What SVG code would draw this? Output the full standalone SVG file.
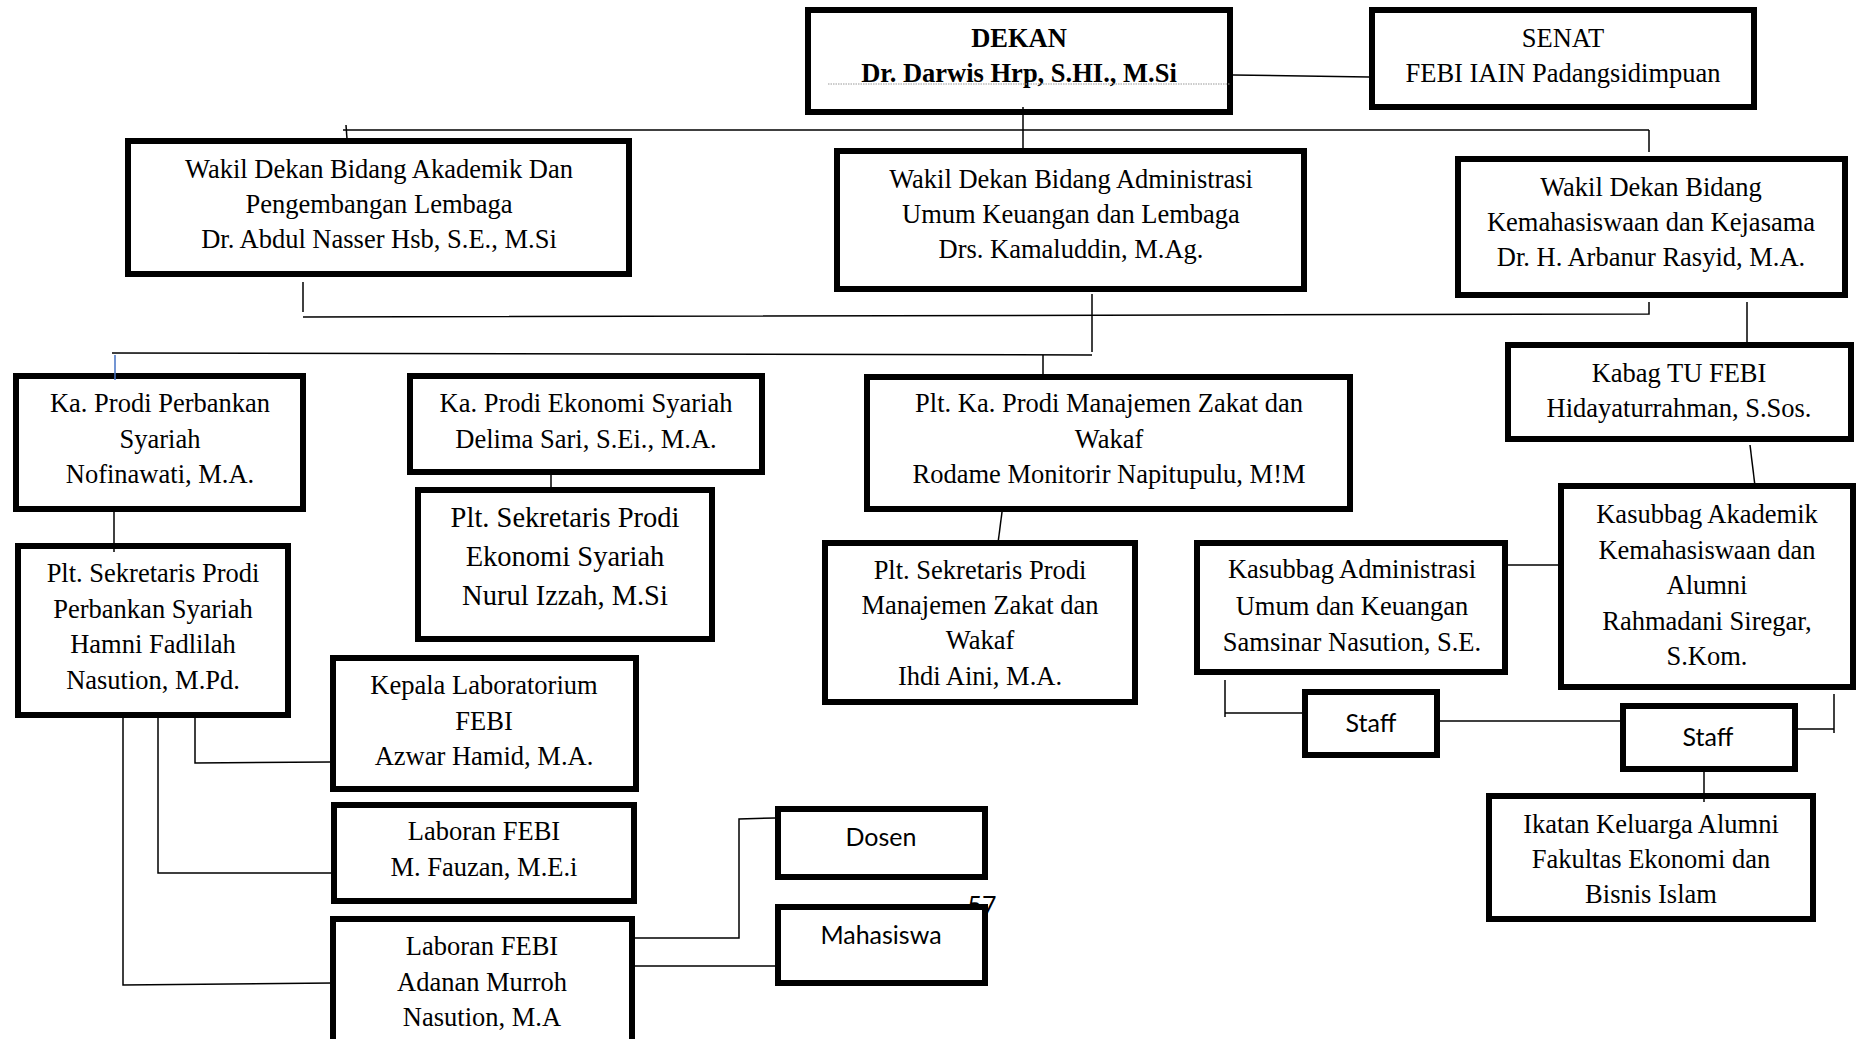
<svg xmlns="http://www.w3.org/2000/svg" width="1856" height="1039" viewBox="0 0 1856 1039">
<style>
.box{fill:#fff;stroke:#000;stroke-width:6}
.t{font-family:"Liberation Serif","Times New Roman",serif;font-size:26.5px;text-anchor:middle;fill:#000}
.b{font-weight:bold}
.lg{font-size:28.5px}
.s{font-family:Lato,"Liberation Sans",Arial,sans-serif;font-size:25px;text-anchor:middle;fill:#000}
.c{stroke:#000;stroke-width:1.5;fill:none}
</style>
<rect width="1856" height="1039" fill="#fff"/>
<text class="s" x="982" y="914" font-size="28">57</text>
<g id="dekan">
<rect class="box" x="808" y="10" width="422" height="102"/>
<text class="t b" x="1019" y="47">DEKAN</text>
<text class="t b" x="1019" y="82">Dr. Darwis Hrp, S.HI., M.Si</text>
<line x1="828" y1="84" x2="1230" y2="84" stroke="#999" stroke-width="1.2" stroke-dasharray="1.5,1"/>
</g>
<g id="senat">
<rect class="box" x="1372" y="10" width="382" height="97"/>
<text class="t" x="1563" y="47">SENAT</text>
<text class="t" x="1563" y="82">FEBI IAIN Padangsidimpuan</text>
</g>
<g id="wd1">
<rect class="box" x="128" y="141" width="501" height="133"/>
<text class="t" x="379" y="178">Wakil Dekan Bidang Akademik Dan</text>
<text class="t" x="379" y="213">Pengembangan Lembaga</text>
<text class="t" x="379" y="248">Dr. Abdul Nasser Hsb, S.E., M.Si</text>
</g>
<g id="wd2">
<rect class="box" x="837" y="151" width="467" height="138"/>
<text class="t" x="1071" y="188">Wakil Dekan Bidang Administrasi</text>
<text class="t" x="1071" y="223">Umum Keuangan dan Lembaga</text>
<text class="t" x="1071" y="258">Drs. Kamaluddin, M.Ag.</text>
</g>
<g id="wd3">
<rect class="box" x="1458" y="159" width="387" height="136"/>
<text class="t" x="1651" y="196">Wakil Dekan Bidang</text>
<text class="t" x="1651" y="231">Kemahasiswaan dan Kejasama</text>
<text class="t" x="1651" y="266">Dr. H. Arbanur Rasyid, M.A.</text>
</g>
<g id="kabag">
<rect class="box" x="1508" y="345" width="343" height="94"/>
<text class="t" x="1679" y="382">Kabag TU FEBI</text>
<text class="t" x="1679" y="417">Hidayaturrahman, S.Sos.</text>
</g>
<g id="kaprodi-ps">
<rect class="box" x="16" y="376" width="287" height="133"/>
<text class="t" x="160" y="412">Ka. Prodi Perbankan</text>
<text class="t" x="160" y="447.5">Syariah</text>
<text class="t" x="160" y="483">Nofinawati, M.A.</text>
</g>
<g id="sek-ps">
<rect class="box" x="18" y="546" width="270" height="169"/>
<text class="t" x="153" y="582">Plt. Sekretaris Prodi</text>
<text class="t" x="153" y="617.5">Perbankan Syariah</text>
<text class="t" x="153" y="653">Hamni Fadlilah</text>
<text class="t" x="153" y="688.5">Nasution, M.Pd.</text>
</g>
<g id="kaprodi-es">
<rect class="box" x="410" y="376" width="352" height="96"/>
<text class="t" x="586" y="412">Ka. Prodi Ekonomi Syariah</text>
<text class="t" x="586" y="447.5">Delima Sari, S.Ei., M.A.</text>
</g>
<g id="sek-es">
<rect class="box" x="418" y="490" width="294" height="149"/>
<text class="t lg" x="565" y="527">Plt. Sekretaris Prodi</text>
<text class="t lg" x="565" y="566">Ekonomi Syariah</text>
<text class="t lg" x="565" y="605">Nurul Izzah, M.Si</text>
</g>
<g id="kaprodi-mzw">
<rect class="box" x="867" y="377" width="483" height="132"/>
<text class="t" x="1109" y="412">Plt. Ka. Prodi Manajemen Zakat dan</text>
<text class="t" x="1109" y="447.5">Wakaf</text>
<text class="t" x="1109" y="483">Rodame Monitorir Napitupulu, M!M</text>
</g>
<g id="sek-mzw">
<rect class="box" x="825" y="543" width="310" height="159"/>
<text class="t" x="980" y="579">Plt. Sekretaris Prodi</text>
<text class="t" x="980" y="614">Manajemen Zakat dan</text>
<text class="t" x="980" y="649">Wakaf</text>
<text class="t" x="980" y="685">Ihdi Aini, M.A.</text>
</g>
<g id="kasubbag-auk">
<rect class="box" x="1197" y="543" width="308" height="129"/>
<text class="t" x="1352" y="578">Kasubbag Administrasi</text>
<text class="t" x="1352" y="614.5">Umum dan Keuangan</text>
<text class="t" x="1352" y="651">Samsinar Nasution, S.E.</text>
</g>
<g id="kasubbag-akd">
<rect class="box" x="1561" y="486" width="292" height="201"/>
<text class="t" x="1707" y="523">Kasubbag Akademik</text>
<text class="t" x="1707" y="558.5">Kemahasiswaan dan</text>
<text class="t" x="1707" y="594">Alumni</text>
<text class="t" x="1707" y="629.5">Rahmadani Siregar,</text>
<text class="t" x="1707" y="665">S.Kom.</text>
</g>
<g id="staff1">
<rect class="box" x="1305" y="692" width="132" height="63"/>
<text class="s" x="1371" y="732">Staff</text>
</g>
<g id="staff2">
<rect class="box" x="1623" y="706" width="172" height="63"/>
<text class="s" x="1708" y="746">Staff</text>
</g>
<g id="ika">
<rect class="box" x="1489" y="796" width="324" height="123"/>
<text class="t" x="1651" y="833">Ikatan Keluarga Alumni</text>
<text class="t" x="1651" y="868">Fakultas Ekonomi dan</text>
<text class="t" x="1651" y="903">Bisnis Islam</text>
</g>
<g id="kalab">
<rect class="box" x="333" y="658" width="303" height="131"/>
<text class="t" x="484" y="694">Kepala Laboratorium</text>
<text class="t" x="484" y="729.5">FEBI</text>
<text class="t" x="484" y="765">Azwar Hamid, M.A.</text>
</g>
<g id="laboran1">
<rect class="box" x="334" y="805" width="300" height="96"/>
<text class="t" x="484" y="840">Laboran FEBI</text>
<text class="t" x="484" y="876">M. Fauzan, M.E.i</text>
</g>
<g id="laboran2">
<rect class="box" x="333" y="919" width="299" height="200"/>
<text class="t" x="482" y="955">Laboran FEBI</text>
<text class="t" x="482" y="990.5">Adanan Murroh</text>
<text class="t" x="482" y="1026">Nasution, M.A</text>
</g>
<g id="dosen">
<rect class="box" x="778" y="809" width="207" height="68"/>
<text class="s" x="881" y="846" font-size="23">Dosen</text>
</g>
<g id="mahasiswa">
<rect class="box" x="778" y="907" width="207" height="76"/>
<text class="s" x="881" y="944" font-size="23">Mahasiswa</text>
</g>
<g id="connectors">
<line class="c" x1="1233" y1="75" x2="1369" y2="77"/>
<line class="c" x1="1023" y1="107" x2="1023" y2="149"/>
<line class="c" x1="343" y1="130" x2="1649" y2="130"/>
<line class="c" x1="346" y1="125" x2="347" y2="139"/>
<line class="c" x1="1649" y1="130" x2="1649" y2="152"/>
<line class="c" x1="303" y1="282" x2="303" y2="312"/>
<polyline class="c" points="303,317 1649,314 1649,302"/>
<line class="c" x1="1092" y1="294" x2="1092" y2="352"/>
<line class="c" x1="112" y1="353" x2="1092" y2="355"/>
<line class="c" x1="1043" y1="355" x2="1043" y2="375"/>
<line x1="115" y1="355" x2="115" y2="380" stroke="#4472C4" stroke-width="1.5"/>
<line class="c" x1="1747" y1="302" x2="1747" y2="345"/>
<line class="c" x1="114" y1="512" x2="114" y2="552"/>
<line class="c" x1="551" y1="475" x2="551" y2="493"/>
<line class="c" x1="1002" y1="512" x2="998" y2="543"/>
<line class="c" x1="1750" y1="445" x2="1755" y2="486"/>
<line class="c" x1="1508" y1="565" x2="1558" y2="565"/>
<line class="c" x1="1225" y1="680" x2="1225" y2="717"/>
<line class="c" x1="1225" y1="713" x2="1302" y2="713"/>
<line class="c" x1="1440" y1="721" x2="1620" y2="721"/>
<line class="c" x1="1798" y1="729" x2="1834" y2="729"/>
<line class="c" x1="1834" y1="694" x2="1834" y2="733"/>
<line class="c" x1="1704" y1="772" x2="1704" y2="802"/>
<polyline class="c" points="195,718 195,763 330,762"/>
<polyline class="c" points="158,718 158,873 331,873"/>
<polyline class="c" points="123,718 123,985 333,983"/>
<polyline class="c" points="635,938 739,938 739,819 775,818"/>
<line class="c" x1="635" y1="966" x2="775" y2="966"/>
</g>
</svg>
